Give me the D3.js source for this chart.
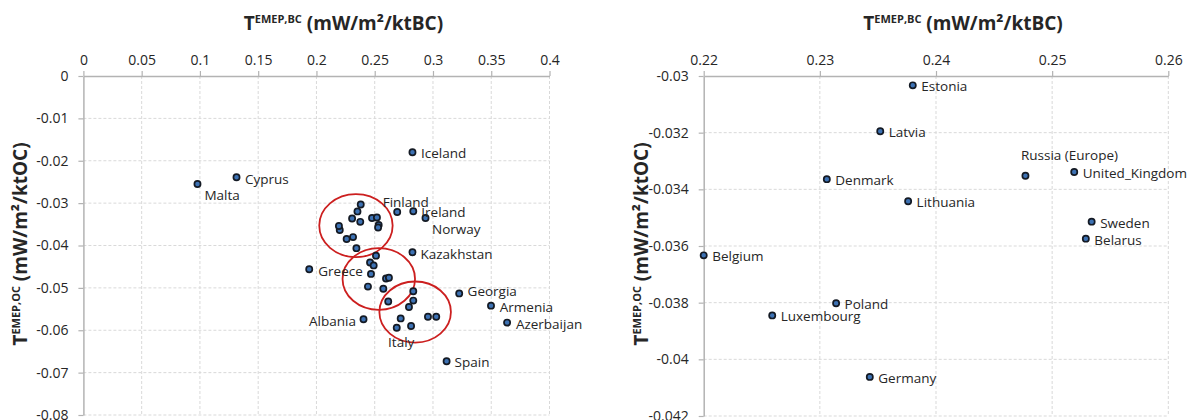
<!DOCTYPE html>
<html>
<head>
<meta charset="utf-8">
<script src="https://cdn.jsdelivr.net/npm/d3@7"></script>
<style>
  html, body { margin: 0; padding: 0; background: #fff; }
  svg text { font-family: "Open Sans", "Noto Sans", sans-serif; }
</style>
</head>
<body>
<svg id="chart" width="1198" height="420"></svg>
<script>
// Country transfer coefficients: BC (x) and OC (y), mW/m2 per kt emitted
const countries = [
  "Iceland", "Cyprus", "Malta", "Finland", "Ireland", "Norway", "Kazakhstan",
  "Greece", "Georgia", "Armenia", "Azerbaijan", "Albania", "Spain",
  "Estonia", "Latvia", "Denmark", "Lithuania", "Russia (Europe)", "United_Kingdom",
  "Sweden", "Belarus", "Belgium", "Poland", "Luxembourg", "Germany",
  "", "", "", "", "", "", "", "", "", "",
  "", "", "", "", "", "", "Italy", ""
];
const tBC = [
  0.2824, 0.1314, 0.0979, 0.2693, 0.2831, 0.2936, 0.2824,
  0.1938, 0.3225, 0.3498, 0.3636, 0.2404, 0.3117,
  0.2380, 0.2352, 0.2306, 0.2376, 0.2477, 0.2519,
  0.2534, 0.2529, 0.2200, 0.2314, 0.2259, 0.2343,
  0.2193, 0.2511, 0.2460, 0.2491, 0.2468, 0.2597, 0.2622, 0.2442, 0.2574, 0.2616,
  0.2831, 0.2831, 0.2794, 0.2957, 0.3028, 0.2723, 0.2689, 0.2812
];
const tOC = [
  -0.0180, -0.0239, -0.0255, -0.0321, -0.0319, -0.0335, -0.0416,
  -0.0456, -0.0513, -0.0542, -0.0582, -0.0574, -0.0673,
  -0.03033, -0.03195, -0.03364, -0.03442, -0.03352, -0.03339,
  -0.03514, -0.03574, -0.03633, -0.03802, -0.03845, -0.04062,
  -0.0354, -0.0424, -0.0440, -0.0447, -0.0467, -0.0478, -0.0476, -0.0497, -0.0502, -0.0532,
  -0.0508, -0.0530, -0.0545, -0.0568, -0.0568, -0.0572, -0.0594, -0.0590
];

// Countries named in the overview panel (the zoomed panel names every point it shows)
const overviewLabels = [
  "Iceland", "Cyprus", "Malta", "Finland", "Ireland", "Norway", "Kazakhstan",
  "Greece", "Georgia", "Armenia", "Azerbaijan", "Albania", "Italy", "Spain"
];

// Groups circled in the overview: centre (BC, OC) and half-widths in data units
const groupCentreBC = [0.2339, 0.2535, 0.2847];
const groupCentreOC = [-0.0353, -0.0479, -0.0557];
const groupHalfBC = [0.0315, 0.0311, 0.0307];
const groupHalfOC = [0.00743, 0.00727, 0.00720];

// Tick values
const overviewTicksX = [0, 0.05, 0.1, 0.15, 0.2, 0.25, 0.3, 0.35, 0.4];
const overviewTicksY = [0, -0.01, -0.02, -0.03, -0.04, -0.05, -0.06, -0.07, -0.08];
const zoomTicksX = [0.22, 0.23, 0.24, 0.25, 0.26];
const zoomTicksY = [-0.03, -0.032, -0.034, -0.036, -0.038, -0.04, -0.042];

const points = countries.map((name, i) => ({ name, bc: tBC[i], oc: tOC[i] }));

// Label placement: [dx, dy, anchor] relative to the marker centre
const overviewPlacement = {
  "Iceland": [8.5, 0.5, "start"], "Cyprus": [8.5, 1.5, "start"], "Malta": [7, 10.5, "start"],
  "Finland": [-14.5, -10, "start"], "Ireland": [8, 0.5, "start"], "Norway": [6.5, 11, "start"],
  "Kazakhstan": [8, 1.7, "start"], "Greece": [9, 1.7, "start"], "Georgia": [8.4, -2.5, "start"],
  "Armenia": [8.8, 1.3, "start"], "Azerbaijan": [8.8, 1.3, "start"], "Albania": [-7.6, 1.4, "end"],
  "Italy": [4.5, 14.5, "middle"], "Spain": [8, 1, "start"]
};
const zoomPlacement = { "Russia (Europe)": [-4.5, -20.5, "start"] };
const zoomDefault = [8.5, 1, "start"];

const svg = d3.select("#chart");
const fmt = v => String(+v.toFixed(4));

function panel(cfg) {
  const [left, right] = cfg.xPixels;
  const [top, bottom] = cfg.yPixels;
  const x = d3.scaleLinear().domain(cfg.xDomain).range([left, right]);
  const y = d3.scaleLinear().domain(cfg.yDomain).range([bottom, top]);
  const g = svg.append("g");

  // dashed gridlines
  g.append("g").selectAll("line").data(cfg.ticksX.slice(1)).join("line")
    .attr("x1", d => x(d)).attr("x2", d => x(d)).attr("y1", top).attr("y2", bottom)
    .attr("stroke", "#d9d9d9").attr("stroke-width", 1).attr("stroke-dasharray", "3,2");
  g.append("g").selectAll("line").data(cfg.ticksY.slice(1)).join("line")
    .attr("x1", left).attr("x2", right).attr("y1", d => y(d)).attr("y2", d => y(d))
    .attr("stroke", "#d9d9d9").attr("stroke-width", 1).attr("stroke-dasharray", "3,2");

  // axes: x along the top edge, y along the left edge
  const ax = g.append("g").attr("transform", `translate(0,${top})`)
    .call(d3.axisTop(x).tickValues(cfg.ticksX).tickFormat(fmt).tickSizeInner(5).tickSizeOuter(0).tickPadding(4));
  const ay = g.append("g").attr("transform", `translate(${left},0)`)
    .call(d3.axisLeft(y).tickValues(cfg.ticksY).tickFormat(fmt).tickSizeInner(5).tickSizeOuter(0).tickPadding(10));
  [ax, ay].forEach(a => {
    a.select(".domain").attr("stroke", "#b3b3b3").attr("stroke-width", 1.5);
    a.selectAll(".tick line").attr("stroke", "#b3b3b3").attr("stroke-width", 1.2);
    a.selectAll(".tick text").attr("fill", "#262626").style("font-size", "14px")
      .style("font-family", '"Open Sans", sans-serif');
  });
  ax.selectAll(".tick text").attr("dy", "-0.15em");

  // axis titles
  const tx = g.append("text").attr("x", (left + right) / 2 + 27).attr("y", 30)
    .attr("text-anchor", "middle").attr("fill", "#262626")
    .style("font-size", "19px").style("font-weight", "bold");
  tx.append("tspan").text("T");
  tx.append("tspan").text("EMEP,BC").style("font-size", "11px").attr("dy", -7);
  tx.append("tspan").text(" (mW/m²/ktBC)").style("font-size", "19px").attr("dy", 7);

  const ty = g.append("text")
    .attr("transform", `translate(${left - 56},244) rotate(-90)`)
    .attr("text-anchor", "middle").attr("fill", "#262626")
    .style("font-size", "19px").style("font-weight", "bold");
  ty.append("tspan").text("T");
  ty.append("tspan").text("EMEP,OC").style("font-size", "11px").attr("dy", -7);
  ty.append("tspan").text(" (mW/m²/ktOC)").style("font-size", "19px").attr("dy", 7);

  // circled groups
  if (cfg.groups) {
    g.append("g").selectAll("ellipse").data(groupCentreBC.map((c, i) => i)).join("ellipse")
      .attr("cx", i => x(groupCentreBC[i]))
      .attr("cy", i => y(groupCentreOC[i]))
      .attr("rx", i => x(groupCentreBC[i] + groupHalfBC[i]) - x(groupCentreBC[i]))
      .attr("ry", i => y(groupCentreOC[i] - groupHalfOC[i]) - y(groupCentreOC[i]))
      .attr("fill", "none").attr("stroke", "#cc1f1f").attr("stroke-width", 1.8);
  }

  const eps = 1e-9;
  const shown = points.filter(p => p.bc >= cfg.xDomain[0] - eps && p.bc <= cfg.xDomain[1] + eps &&
                                   p.oc >= cfg.yDomain[0] - eps && p.oc <= cfg.yDomain[1] + eps);

  g.append("g").selectAll("circle").data(shown).join("circle")
    .attr("cx", d => x(d.bc)).attr("cy", d => y(d.oc)).attr("r", 3.1)
    .attr("fill", "#3d72b4").attr("stroke", "#141a24").attr("stroke-width", 1.7);

  const labelled = shown.filter(cfg.labelFilter);
  g.append("g").selectAll("text").data(labelled).join("text")
    .attr("x", d => x(d.bc) + cfg.place(d.name)[0])
    .attr("y", d => y(d.oc) + cfg.place(d.name)[1])
    .attr("text-anchor", d => cfg.place(d.name)[2])
    .attr("dominant-baseline", "central")
    .attr("fill", "#262626").style("font-size", "13.5px")
    .text(d => d.name);
}

panel({
  xDomain: [0, 0.4], yDomain: [-0.08, 0],
  xPixels: [83.4, 549.5], yPixels: [76, 415],
  ticksX: overviewTicksX, ticksY: overviewTicksY,
  groups: true,
  labelFilter: d => overviewLabels.includes(d.name),
  place: name => overviewPlacement[name]
});

panel({
  xDomain: [0.22, 0.26], yDomain: [-0.042, -0.03],
  xPixels: [703.7, 1168.3], yPixels: [76, 416],
  ticksX: zoomTicksX, ticksY: zoomTicksY,
  groups: false,
  labelFilter: d => d.name !== "",
  place: name => zoomPlacement[name] || zoomDefault
});
</script>
</body>
</html>
